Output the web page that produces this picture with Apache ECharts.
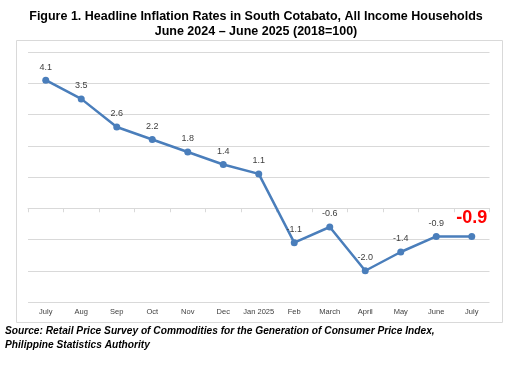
<!DOCTYPE html>
<html><head><meta charset="utf-8">
<script src="https://cdn.jsdelivr.net/npm/echarts@6/dist/echarts.min.js"></script>
<style>html,body{margin:0;padding:0;background:#fff}#c{width:518px;height:372px}</style>
</head><body><div id="c"></div>
<script>
var categories = ['July','Aug','Sep','Oct','Nov','Dec','Jan 2025','Feb','March','April','May','June','July'];
var inflation = [4.1, 3.5, 2.6, 2.2, 1.8, 1.4, 1.1, -1.1, -0.6, -2.0, -1.4, -0.9, -0.9];
var titleText = 'Figure 1. Headline Inflation Rates in South Cotabato, All Income Households\nJune 2024 \u2013 June 2025 (2018=100)';
var sourceText = 'Source: Retail Price Survey of Commodities for the Generation of Consumer Price Index,\nPhilippine Statistics Authority';

var chart = echarts.init(document.getElementById('c'), null, {renderer:'canvas'});
var data = inflation.map(function(v, i){
  if (i === inflation.length - 1) {
    return {value: v, label: {color:'#ff0000', fontSize:18, fontWeight:'bold', distance:6}};
  }
  return v;
});
chart.setOption({
  animation:false,
  graphic:[
    {type:'text', x:256, y:9, style:{text:titleText, align:'center', verticalAlign:'top',
      font:'bold 12.5px "Liberation Sans", Arial', fill:'#000', lineHeight:15}},
    {type:'rect', shape:{x:16.5, y:40.5, width:486, height:282}, style:{fill:'none', stroke:'#d9d9d9', lineWidth:1}, z:-1},
    {type:'text', left:5, top:325, style:{text:sourceText, font:'italic bold 10.2px "Liberation Sans", Arial', fill:'#000', lineHeight:13.3}}
  ],
  grid:{left:28, right:28.5, top:52, bottom:70, containLabel:false},
  xAxis:[
    {type:'category', data:categories, position:'bottom',
     axisLine:{show:false, onZero:false}, axisTick:{show:false},
     axisLabel:{interval:0, fontSize:7.5, color:'#404040', margin:6, fontFamily:'Liberation Sans, Arial'}},
    {type:'category', data:categories, position:'top',
     axisLine:{show:true, onZero:true, lineStyle:{color:'#d9d9d9', width:1}},
     axisTick:{show:true, inside:true, interval:0, length:4, lineStyle:{color:'#d9d9d9'}},
     axisLabel:{show:false, interval:0}}
  ],
  yAxis:{type:'value', min:-3, max:5, interval:1,
    axisLine:{show:false}, axisTick:{show:false}, axisLabel:{show:false},
    splitLine:{lineStyle:{color:'#d9d9d9', width:1}}},
  series:[{
    type:'line', data:data, xAxisIndex:0,
    symbol:'circle', symbolSize:7,
    lineStyle:{color:'#4a7ebb', width:2.5},
    itemStyle:{color:'#4a7ebb'},
    label:{show:true, position:'top', fontSize:9, color:'#404040', fontFamily:'Liberation Sans, Arial',
      formatter:function(p){return p.value.toFixed(1);}}
  }]
});
</script></body></html>
